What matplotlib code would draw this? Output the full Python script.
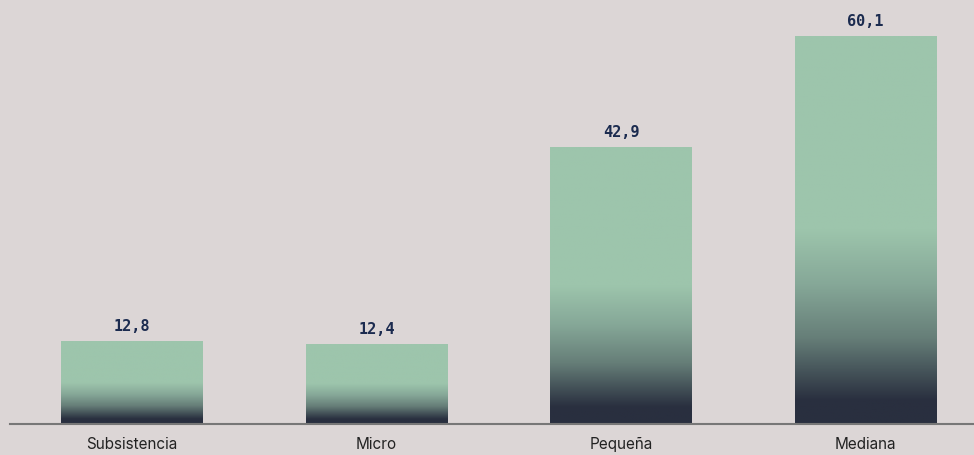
import numpy as np
import matplotlib.pyplot as plt
from matplotlib.colors import LinearSegmentedColormap

categorias = ['Subsistencia', 'Micro', 'Pequeña', 'Mediana']
valores = [12.8, 12.4, 42.9, 60.1]
etiquetas = ['12,8', '12,4', '42,9', '60,1']

fondo = '#dcd6d6'
verde = '#9dc5ac'
oscuro = '#292f3f'

# degradado vertical: oscuro abajo, verde arriba
cmap = LinearSegmentedColormap.from_list(
    'barra', [(0.0, oscuro), (0.06, oscuro), (0.22, '#667e78'),
              (0.36, '#86a898'), (0.50, verde), (1.0, verde)])

fig = plt.figure(figsize=(9.74, 4.55), dpi=100, facecolor=fondo)
ax = fig.add_axes([10 / 974, 1 - 424 / 455, 1 - 10 / 974, 424 / 455])
ax.set_facecolor(fondo)

x = np.arange(len(categorias))
ancho = 0.58
barras = ax.bar(x, valores, width=ancho, color='none', edgecolor='none')

grad = np.linspace(0, 1, 256).reshape(-1, 1)
for b, v in zip(barras, valores):
    x0 = b.get_x()
    im = ax.imshow(grad, cmap=cmap, origin='lower', aspect='auto',
                   extent=[x0, x0 + ancho, 0, v], zorder=2)
    im.set_clip_path(b)

for xi, v, t in zip(x, valores, etiquetas):
    ax.text(xi, v + 1.1, t, ha='center', va='bottom', fontsize=11,
            family='DejaVu Sans Mono', fontweight='bold', color='#1b2b4f')

ax.set_xlim(-0.5, (974 - 132) / 244.5)
ax.set_ylim(0, 424 / 6.456)
ax.set_xticks(x)
ax.set_xticklabels(categorias, fontsize=11, color='#222222', family='Inter')
ax.tick_params(axis='x', length=0, pad=9.5)
ax.set_yticks([])
for s in ['top', 'right', 'left']:
    ax.spines[s].set_visible(False)
ax.spines['bottom'].set_color('#777777')
ax.spines['bottom'].set_linewidth(1.5)
ax.spines['bottom'].set_zorder(3)

fig.savefig('out.png', dpi=100, facecolor=fondo)
